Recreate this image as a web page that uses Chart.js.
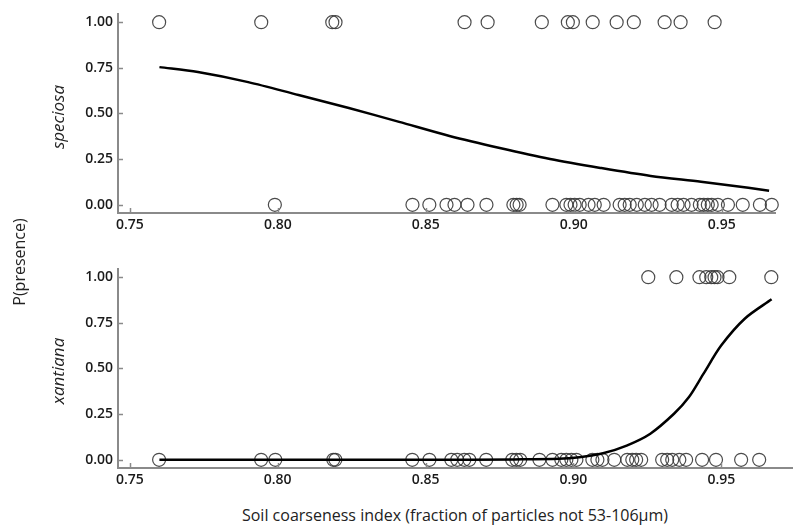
<!DOCTYPE html>
<html>
<head>
<meta charset="utf-8">
<script src="https://cdn.jsdelivr.net/npm/chart.js@4.4.1/dist/chart.umd.min.js"></script>
<style>
  body { margin: 0; background: #fff; }
  #wrap { position: relative; width: 800px; height: 529px; font-family: "Open Sans", sans-serif; color: #222; }
  canvas { position: absolute; left: 0; }
  .rot { position: absolute; transform: translate(-50%, -50%) rotate(-90deg); white-space: nowrap; }
  .species { font-style: italic; font-size: 17px; }
</style>
</head>
<body>
<div id="wrap">
  <canvas id="chartTop" width="800" height="245" style="top:0"></canvas>
  <canvas id="chartBottom" width="800" height="245" style="top:255px"></canvas>
  <div class="rot" style="left:19px; top:262px; font-size:16px;">P(presence)</div>
  <div class="rot species" style="left:57px; top:117px;">speciosa</div>
  <div class="rot species" style="left:57px; top:371px;">xantiana</div>
  <div style="position:absolute; left:455px; top:515px; transform:translate(-50%,-50%); font-size:16px; white-space:nowrap;">Soil coarseness index (fraction of particles not 53-106µm)</div>
</div>
<script>
// tick labels
const xTicks = [0.75, 0.80, 0.85, 0.90, 0.95];
const yTicks = [0, 0.25, 0.5, 0.75, 1];

// speciosa: sites where present (P=1) and absent (P=0)
const speciosaPresent = [0.7599, 0.7944, 0.8184, 0.8195, 0.8631, 0.8709, 0.8892, 0.8980, 0.8997,
  0.9064, 0.9145, 0.9203, 0.9307, 0.9361, 0.9476];
const speciosaAbsent = [0.7990, 0.8455, 0.8512, 0.8570, 0.8597, 0.8641, 0.8705, 0.8796, 0.8807,
  0.8817, 0.8928, 0.8975, 0.8989, 0.9003, 0.9020, 0.9050, 0.9071, 0.9101, 0.9155, 0.9172, 0.9189,
  0.9213, 0.9240, 0.9263, 0.9290, 0.9331, 0.9351, 0.9371, 0.9398, 0.9426, 0.9439, 0.9453, 0.9466,
  0.9487, 0.9521, 0.9571, 0.9629, 0.9669];
// speciosa fitted curve
const speciosaCurveX = [0.760, 0.773, 0.790, 0.807, 0.824, 0.841, 0.858, 0.875, 0.892, 0.909,
  0.926, 0.943, 0.959, 0.966];
const speciosaCurveP = [0.754, 0.727, 0.672, 0.601, 0.530, 0.454, 0.377, 0.311, 0.251, 0.202,
  0.158, 0.126, 0.093, 0.077];

// xantiana
const xantianaPresent = [0.9253, 0.9348, 0.9426, 0.9449, 0.9466, 0.9477, 0.9487, 0.9527, 0.9669];
const xantianaAbsent = [0.7599, 0.7944, 0.7992, 0.8188, 0.8195, 0.8455, 0.8513, 0.8587, 0.8607,
  0.8631, 0.8648, 0.8705, 0.8793, 0.8807, 0.8820, 0.8885, 0.8929, 0.8959, 0.8976, 0.8993, 0.9010,
  0.9064, 0.9081, 0.9098, 0.9138, 0.9182, 0.9199, 0.9212, 0.9229, 0.9300, 0.9317, 0.9334, 0.9358,
  0.9381, 0.9435, 0.9482, 0.9567, 0.9628];
const xantianaCurveX = [0.760, 0.800, 0.850, 0.880, 0.895, 0.902, 0.910, 0.918, 0.926, 0.934,
  0.939, 0.944, 0.950, 0.958, 0.967];
const xantianaCurveP = [0.000, 0.000, 0.000, 0.002, 0.005, 0.014, 0.036, 0.078, 0.143, 0.252,
  0.342, 0.472, 0.627, 0.774, 0.879];

const axisGray = "#8a8a8a";
const tickFont = { family: "'Open Sans', sans-serif", size: 14, weight: "600" };

// small tick marks pointing into the plot
const innerTicks = {
  id: "innerTicks",
  afterDraw(chart) {
    const { ctx, scales } = chart;
    const x = scales.x, y = scales.y;
    ctx.save();
    ctx.strokeStyle = axisGray;
    ctx.lineWidth = 1.5;
    ctx.beginPath();
    x.ticks.forEach((t) => {
      const px = Math.round(x.getPixelForValue(t.value)) + 0.5;
      ctx.moveTo(px, x.top);
      ctx.lineTo(px, x.top - 5);
    });
    y.ticks.forEach((t) => {
      const py = Math.round(y.getPixelForValue(t.value)) + 0.5;
      ctx.moveTo(y.right, py);
      ctx.lineTo(y.right + 5, py);
    });
    ctx.stroke();
    ctx.restore();
  },
};

function makePanel(canvasId, present, absent, curveX, curveP, xMax, padRight) {
  const points = present.map((v) => ({ x: v, y: 1 })).concat(absent.map((v) => ({ x: v, y: 0 })));
  const curve = curveX.map((v, i) => ({ x: v, y: curveP[i] }));

  return new Chart(document.getElementById(canvasId).getContext("2d"), {
    type: "scatter",
    data: {
      datasets: [
        {
          label: "sites",
          data: points,
          pointStyle: "circle",
          pointRadius: 6.5,
          pointBorderWidth: 1.2,
          borderColor: "rgba(55,55,55,0.9)",
          backgroundColor: "rgba(0,0,0,0)",
          clip: false,
          order: 2,
        },
        {
          label: "fit",
          data: curve,
          showLine: true,
          pointRadius: 0,
          borderColor: "#000",
          borderWidth: 2.5,
          tension: 0.3,
          order: 1,
        },
      ],
    },
    options: {
      responsive: false,
      animation: false,
      layout: { padding: { top: 14, right: padRight, left: 0, bottom: 0 } },
      plugins: { legend: { display: false }, tooltip: { enabled: false } },
      scales: {
        x: {
          type: "linear",
          min: 0.746,
          max: xMax,
          grid: { display: false, drawTicks: false },
          border: { display: true, color: axisGray, width: 2 },
          afterBuildTicks: (scale) => { scale.ticks = xTicks.map((v) => ({ value: v })); },
          afterFit: (scale) => { scale.height = 32; },
          ticks: {
            padding: 4,
            color: "#1a1a1a",
            font: tickFont,
            maxRotation: 0,
            callback: (v) => Number(v).toFixed(2),
          },
        },
        y: {
          type: "linear",
          min: -0.045,
          max: 1.045,
          grid: { display: false, drawTicks: false },
          border: { display: true, color: axisGray, width: 2 },
          afterBuildTicks: (scale) => { scale.ticks = yTicks.map((v) => ({ value: v })); },
          afterFit: (scale) => { scale.width = 118; },
          ticks: {
            padding: 5,
            color: "#1a1a1a",
            font: tickFont,
            callback: (v) => Number(v).toFixed(2),
          },
        },
      },
    },
    plugins: [innerTicks],
  });
}

makePanel("chartTop", speciosaPresent, speciosaAbsent, speciosaCurveX, speciosaCurveP, 0.968, 25);
makePanel("chartBottom", xantianaPresent, xantianaAbsent, xantianaCurveX, xantianaCurveP, 0.974, 5);
</script>
</body>
</html>
